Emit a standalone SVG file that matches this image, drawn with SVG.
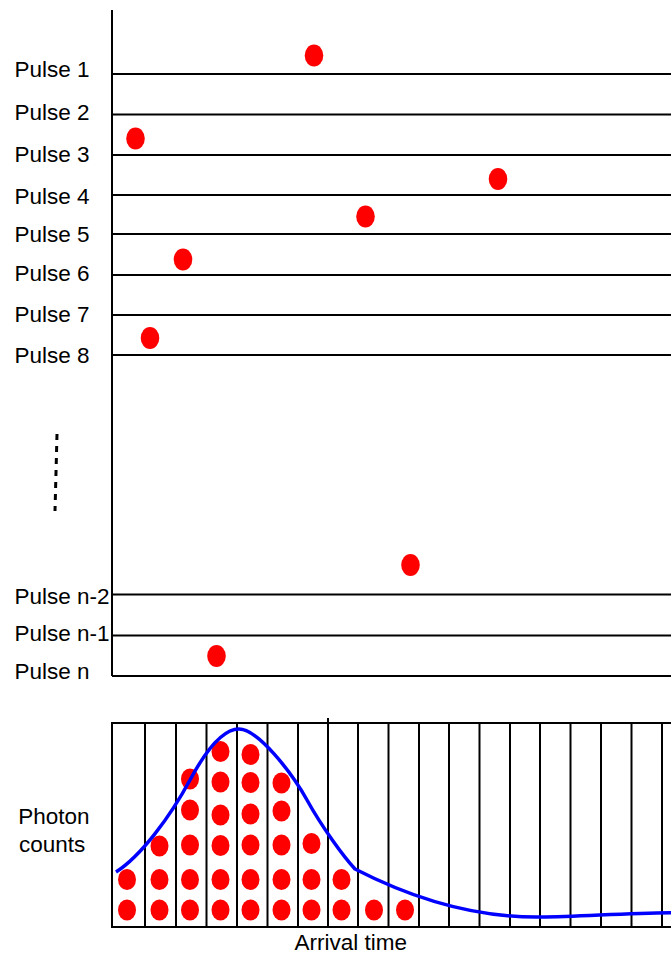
<svg xmlns="http://www.w3.org/2000/svg" width="671" height="954" viewBox="0 0 671 954">
<style>
.ax{stroke:#000;stroke-width:2;fill:none}
.bin{stroke:#000;stroke-width:2}
.lbl{font-family:"Liberation Sans",Arial,sans-serif;font-size:22.5px;fill:#000}
.dot{fill:#ff0000}
.fit{stroke:#0000ff;stroke-width:3.5;fill:none}
</style>
<rect width="671" height="954" fill="#fff"/>
<g id="pulse-axis">
<line class="ax" x1="112" y1="10" x2="112" y2="676"/>
<line class="ax" x1="112" y1="74" x2="671" y2="74"/>
<line class="ax" x1="112" y1="114.5" x2="671" y2="114.5"/>
<line class="ax" x1="112" y1="155" x2="671" y2="155"/>
<line class="ax" x1="112" y1="195" x2="671" y2="195"/>
<line class="ax" x1="112" y1="234" x2="671" y2="234"/>
<line class="ax" x1="112" y1="275" x2="671" y2="275"/>
<line class="ax" x1="112" y1="315" x2="671" y2="315"/>
<line class="ax" x1="112" y1="355" x2="671" y2="355"/>
<line class="ax" x1="112" y1="594.5" x2="671" y2="594.5"/>
<line class="ax" x1="112" y1="635.5" x2="671" y2="635.5"/>
<line class="ax" x1="112" y1="676" x2="671" y2="676"/>
</g>
<g id="pulse-labels">
<text class="lbl" x="14.5" y="77">Pulse 1</text>
<text class="lbl" x="14.5" y="119.5">Pulse 2</text>
<text class="lbl" x="14.5" y="162">Pulse 3</text>
<text class="lbl" x="14.5" y="203.5">Pulse 4</text>
<text class="lbl" x="14.5" y="242">Pulse 5</text>
<text class="lbl" x="14.5" y="280.5">Pulse 6</text>
<text class="lbl" x="14.5" y="322">Pulse 7</text>
<text class="lbl" x="14.5" y="363">Pulse 8</text>
<text class="lbl" x="14.5" y="603.5">Pulse n-2</text>
<text class="lbl" x="14.5" y="641">Pulse n-1</text>
<text class="lbl" x="14.5" y="678.5">Pulse n</text>
</g>
<g id="ellipsis">
<line x1="57" y1="434" x2="55" y2="511" stroke="#000" stroke-width="3" stroke-dasharray="6,6"/>
</g>
<g id="pulse-photons">
<ellipse class="dot" cx="314" cy="55.5" rx="9.3" ry="11"/>
<ellipse class="dot" cx="135.5" cy="138.5" rx="9.3" ry="11"/>
<ellipse class="dot" cx="498" cy="179" rx="9.3" ry="11"/>
<ellipse class="dot" cx="365.5" cy="216.5" rx="9.3" ry="11"/>
<ellipse class="dot" cx="183" cy="259.5" rx="9.3" ry="11"/>
<ellipse class="dot" cx="150" cy="338" rx="9.3" ry="11"/>
<ellipse class="dot" cx="410.5" cy="565" rx="9.3" ry="11"/>
<ellipse class="dot" cx="216.5" cy="656" rx="9.3" ry="11"/>
</g>
<g id="histogram">
<line class="bin" x1="112" y1="723" x2="671" y2="723"/>
<line class="bin" x1="112" y1="927" x2="671" y2="927"/>
<line class="bin" x1="112" y1="722" x2="112" y2="928"/>
<line class="bin" x1="145" y1="723" x2="145" y2="927"/>
<line class="bin" x1="176" y1="723" x2="176" y2="927"/>
<line class="bin" x1="206.5" y1="723" x2="206.5" y2="927"/>
<line class="bin" x1="237" y1="723" x2="237" y2="927"/>
<line class="bin" x1="267.5" y1="723" x2="267.5" y2="927"/>
<line class="bin" x1="298" y1="723" x2="298" y2="927"/>
<line class="bin" x1="328" y1="718" x2="328" y2="927"/>
<line class="bin" x1="358" y1="723" x2="358" y2="927"/>
<line class="bin" x1="388.5" y1="723" x2="388.5" y2="927"/>
<line class="bin" x1="419" y1="723" x2="419" y2="927"/>
<line class="bin" x1="449" y1="723" x2="449" y2="927"/>
<line class="bin" x1="479.5" y1="723" x2="479.5" y2="927"/>
<line class="bin" x1="510" y1="723" x2="510" y2="927"/>
<line class="bin" x1="540" y1="723" x2="540" y2="927"/>
<line class="bin" x1="570.5" y1="723" x2="570.5" y2="927"/>
<line class="bin" x1="601" y1="723" x2="601" y2="927"/>
<line class="bin" x1="631.5" y1="723" x2="631.5" y2="927"/>
<line class="bin" x1="662" y1="723" x2="662" y2="927"/>
</g>
<g id="histogram-photons">
<ellipse class="dot" cx="127" cy="910" rx="9" ry="10.5"/>
<ellipse class="dot" cx="127" cy="879.5" rx="9" ry="10.5"/>
<ellipse class="dot" cx="159.5" cy="910" rx="9" ry="10.5"/>
<ellipse class="dot" cx="159.5" cy="879.5" rx="9" ry="10.5"/>
<ellipse class="dot" cx="159.5" cy="846" rx="9" ry="10.5"/>
<ellipse class="dot" cx="190" cy="910" rx="9" ry="10.5"/>
<ellipse class="dot" cx="190" cy="879.5" rx="9" ry="10.5"/>
<ellipse class="dot" cx="190" cy="845" rx="9" ry="10.5"/>
<ellipse class="dot" cx="190" cy="810" rx="9" ry="10.5"/>
<ellipse class="dot" cx="190" cy="779" rx="9" ry="10.5"/>
<ellipse class="dot" cx="220.5" cy="910" rx="9" ry="10.5"/>
<ellipse class="dot" cx="220.5" cy="879.5" rx="9" ry="10.5"/>
<ellipse class="dot" cx="220.5" cy="845.5" rx="9" ry="10.5"/>
<ellipse class="dot" cx="220.5" cy="815" rx="9" ry="10.5"/>
<ellipse class="dot" cx="220.5" cy="782" rx="9" ry="10.5"/>
<ellipse class="dot" cx="220.5" cy="751.5" rx="9" ry="10.5"/>
<ellipse class="dot" cx="250.5" cy="910" rx="9" ry="10.5"/>
<ellipse class="dot" cx="250.5" cy="879.5" rx="9" ry="10.5"/>
<ellipse class="dot" cx="250.5" cy="845" rx="9" ry="10.5"/>
<ellipse class="dot" cx="250.5" cy="814" rx="9" ry="10.5"/>
<ellipse class="dot" cx="250.5" cy="782.5" rx="9" ry="10.5"/>
<ellipse class="dot" cx="250.5" cy="754.5" rx="9" ry="10.5"/>
<ellipse class="dot" cx="281.5" cy="910" rx="9" ry="10.5"/>
<ellipse class="dot" cx="281.5" cy="879.5" rx="9" ry="10.5"/>
<ellipse class="dot" cx="281.5" cy="845" rx="9" ry="10.5"/>
<ellipse class="dot" cx="281.5" cy="811" rx="9" ry="10.5"/>
<ellipse class="dot" cx="281.5" cy="783" rx="9" ry="10.5"/>
<ellipse class="dot" cx="311.5" cy="910" rx="9" ry="10.5"/>
<ellipse class="dot" cx="311.5" cy="879.5" rx="9" ry="10.5"/>
<ellipse class="dot" cx="311.5" cy="843.5" rx="9" ry="10.5"/>
<ellipse class="dot" cx="341.5" cy="910" rx="9" ry="10.5"/>
<ellipse class="dot" cx="341.5" cy="879.5" rx="9" ry="10.5"/>
<ellipse class="dot" cx="374" cy="910" rx="9" ry="10.5"/>
<ellipse class="dot" cx="405" cy="910" rx="9" ry="10.5"/>
</g>
<g id="fit-curve">
<path class="fit" d="M116,872 C141,856 170,817 190,780 C205,752 222,729 239,729 C258,729 292,773 307,800 C322,827 343,856 355,869 C390,887 460,918 540,917 C580,917 620,913 671,912.7"/>
</g>
<g id="axis-labels">
<text class="lbl" x="18.3" y="823.5">Photon</text>
<text class="lbl" x="19" y="851.5">counts</text>
<text class="lbl" x="294.5" y="949.5">Arrival time</text>
</g>
</svg>
